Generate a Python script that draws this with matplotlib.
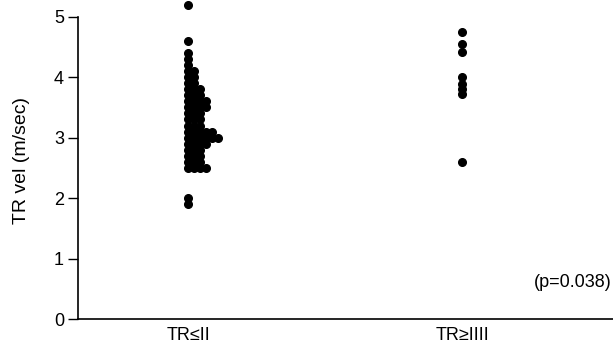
import matplotlib
matplotlib.use('Agg')
import matplotlib.pyplot as plt
from collections import Counter

# Data (TR velocity, m/sec)
group_labels = ["TR\u2264II", "TR\u2265IIII"]
left_values = (
    [5.2, 4.6, 4.4, 4.3, 4.2]
    + [4.1] * 2 + [4.0] * 2 + [3.9] * 2 + [3.8] * 3 + [3.7] * 3
    + [3.6] * 4 + [3.5] * 4 + [3.4] * 3 + [3.3] * 3 + [3.2] * 3
    + [3.1] * 5 + [3.0] * 6 + [2.9] * 4 + [2.8] * 3 + [2.7] * 3
    + [2.6] * 3 + [2.5] * 4 + [2.0, 1.9]
)
right_values = [4.75, 4.55, 4.42, 4.0, 3.88, 3.8, 3.72, 2.6]
p_text = "(p=0.038)"

plt.rcParams['font.family'] = ['Liberation Sans', 'DejaVu Sans']

fig = plt.figure(figsize=(6.13, 3.55), dpi=100)
ax = fig.add_axes([78 / 613, 1 - 319 / 355, 1 - 78 / 613, (319 - 1) / 355])

# stack equal values side by side, growing to the right
dx = 0.0219
seen = Counter()
lx, ly = [], []
for v in left_values:
    lx.append(1 + seen[v] * dx)
    ly.append(v)
    seen[v] += 1
ax.plot(lx, ly, "o", color="black", markersize=5.5, clip_on=False)
ax.plot([2] * len(right_values), right_values, "o", color="black",
        markersize=5.5, clip_on=False)

ax.set_xlim(0.598, 2.551)
ax.set_ylim(0, 5.26)
ax.spines["top"].set_visible(False)
ax.spines["right"].set_visible(False)
ax.spines["left"].set_bounds(0, 5)
ax.spines["left"].set_linewidth(1.2)
ax.spines["bottom"].set_linewidth(1.2)

ax.set_yticks([0, 1, 2, 3, 4, 5])
ax.tick_params(axis="y", length=7, width=1.0, labelsize=13, pad=3)
ax.set_xticks([1, 2])
ax.set_xticklabels(group_labels)
ax.tick_params(axis="x", length=0, labelsize=13, pad=6)
ax.set_ylabel("TR vel (m/sec)", fontsize=14, labelpad=17)

ax.text(0.997, 0.6, p_text, transform=ax.get_yaxis_transform(),
        ha="right", va="center", fontsize=13)

fig.savefig("out.png", dpi=100)
